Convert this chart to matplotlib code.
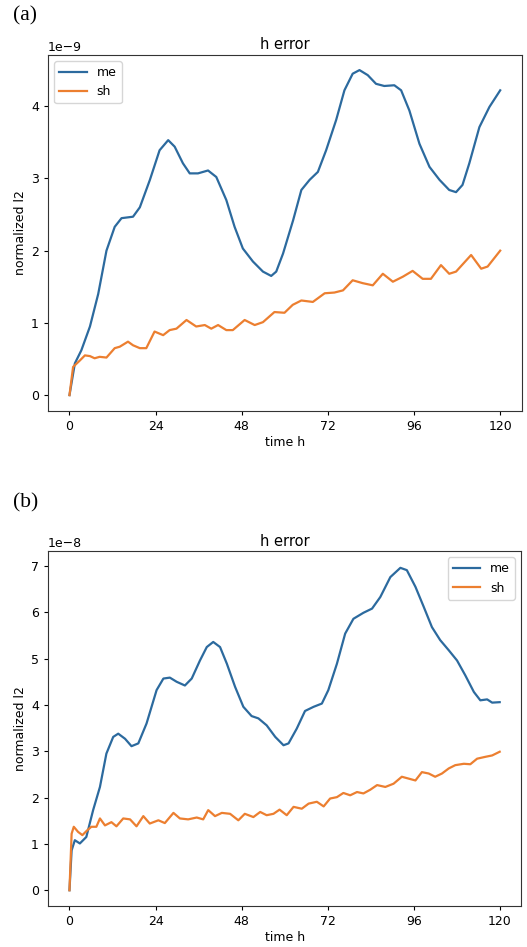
import numpy as np
import matplotlib
matplotlib.use('Agg')
import matplotlib.pyplot as plt

############################################
# data (units 1e-9 for a, 1e-8 for b)
############################################

t_me_a = [0, 1.5, 3.3, 5.7, 8, 10.3, 12.6, 14.5, 17.7, 19.6, 22.4, 25.1, 27.5, 29.3,
          31.6, 33.5, 35.8, 38.6, 40.9, 43.7, 46, 48.3, 51.1, 53.9, 56.2, 57.6, 59.5,
          62.3, 64.6, 66.9, 69.2, 71.5, 74.3, 76.6, 78.9, 80.8, 83.1, 85.4, 87.7, 90.5,
          92.4, 94.7, 97.5, 100.3, 103.1, 105.8, 107.7, 109.5, 111.4, 114.2, 117, 120]
me_a = [0, 0.44, 0.62, 0.95, 1.4, 2.0, 2.33, 2.45, 2.47, 2.6, 2.98, 3.39, 3.53, 3.44,
        3.21, 3.07, 3.07, 3.11, 3.02, 2.70, 2.33, 2.03, 1.85, 1.71, 1.65, 1.71, 1.96,
        2.42, 2.84, 2.98, 3.09, 3.39, 3.81, 4.22, 4.45, 4.50, 4.43, 4.31, 4.28, 4.29,
        4.22, 3.94, 3.48, 3.16, 2.98, 2.84, 2.81, 2.91, 3.21, 3.71, 3.99, 4.22]

t_sh_a = [0, 1, 2.9, 4.3, 5.7, 7, 8.4, 10.3, 12.6, 14, 16.3, 17.7, 19.6, 21.4, 23.7,
          26.1, 27.9, 29.8, 32.6, 35.3, 37.7, 39.5, 41.4, 43.7, 45.5, 48.8, 51.6, 53.9,
          57.1, 59.9, 62.2, 64.6, 67.8, 71.1, 73.8, 76.2, 78.9, 81.7, 84.5, 87.3, 90.1,
          92.9, 95.6, 98.4, 100.7, 103.5, 105.8, 107.7, 111.9, 114.7, 116.5, 120]
sh_a = [0, 0.39, 0.48, 0.55, 0.54, 0.51, 0.53, 0.52, 0.65, 0.67, 0.74, 0.69, 0.65, 0.65,
        0.88, 0.83, 0.90, 0.92, 1.04, 0.95, 0.97, 0.92, 0.97, 0.90, 0.90, 1.04, 0.97,
        1.01, 1.15, 1.14, 1.25, 1.31, 1.29, 1.41, 1.42, 1.45, 1.59, 1.55, 1.52, 1.68,
        1.57, 1.64, 1.72, 1.61, 1.61, 1.80, 1.68, 1.71, 1.94, 1.75, 1.78, 2.0]

t_me_b = [0, 0.6, 1.5, 2.9, 4.7, 6.6, 8.5, 10.3, 12.2, 13.6, 15.5, 17.3, 19.2, 21.5,
          24.3, 26.2, 28, 29.9, 32.2, 34.1, 36.4, 38.3, 40.1, 42, 43.9, 46.2, 48.5,
          50.8, 52.7, 55, 57.4, 59.7, 61.1, 63.4, 65.7, 68.1, 70.4, 72.2, 74.6, 76.9,
          79.2, 82, 84.4, 86.7, 89.5, 92.3, 94.1, 96.5, 98.8, 101.1, 103.4, 105.8,
          108.1, 110.4, 112.8, 114.6, 116.5, 117.9, 120]
me_b = [0, 0.86, 1.08, 1.01, 1.15, 1.73, 2.23, 2.95, 3.31, 3.38, 3.27, 3.11, 3.17, 3.60,
        4.32, 4.57, 4.59, 4.50, 4.42, 4.57, 4.96, 5.25, 5.36, 5.25, 4.89, 4.39, 3.96,
        3.76, 3.71, 3.56, 3.31, 3.13, 3.17, 3.49, 3.87, 3.96, 4.03, 4.32, 4.89, 5.54,
        5.86, 5.99, 6.08, 6.33, 6.76, 6.96, 6.91, 6.55, 6.12, 5.68, 5.40, 5.18,
        4.96, 4.64, 4.28, 4.10, 4.12, 4.05, 4.06]

t_sh_b = [0, 0.6, 1.2, 2.4, 3.6, 4.9, 6.1, 7.5, 8.5, 9.9, 11.7, 13.1, 15, 16.9, 18.7,
          20.6, 22.4, 24.8, 26.6, 29, 30.8, 33.1, 35.5, 37.3, 38.7, 40.6, 42.5, 44.8,
          47.1, 48.9, 51.3, 53.2, 55, 56.9, 58.6, 60.6, 62.5, 64.8, 66.7, 69, 70.9,
          72.7, 74.6, 76.4, 78.3, 80.2, 82, 83.9, 85.8, 88.1, 90.4, 92.7, 94.6, 96.5,
          98.3, 100.2, 102, 103.9, 105.8, 107.6, 110, 111.8, 113.7, 116, 117.9, 120]
sh_b = [0, 1.22, 1.37, 1.26, 1.19, 1.29, 1.37, 1.37, 1.55, 1.40, 1.47, 1.38, 1.55, 1.53,
        1.38, 1.60, 1.44, 1.51, 1.45, 1.67, 1.55, 1.53, 1.57, 1.53, 1.73, 1.60, 1.67,
        1.65, 1.51, 1.65, 1.58, 1.69, 1.62, 1.65, 1.74, 1.62, 1.80, 1.76, 1.87, 1.91,
        1.81, 1.98, 2.01, 2.10, 2.05, 2.12, 2.09, 2.17, 2.27, 2.23, 2.30, 2.45, 2.41,
        2.37, 2.55, 2.52, 2.45, 2.52, 2.63, 2.70, 2.73, 2.72, 2.84, 2.88, 2.91, 2.99]

xticks = [0, 24, 48, 72, 96, 120]

############################################
# figure
############################################
fig = plt.figure(figsize=(5.27, 9.47), dpi=100)

ax1 = fig.add_axes([0.091, 0.566, 0.899, 0.376])
ax2 = fig.add_axes([0.091, 0.0433, 0.898, 0.3747])

c_me = '#2c6a9e'
c_sh = '#ec7f30'


def style(ax, scale, ylim, loc):
    ax.set_xticks(xticks)
    ax.set_xlim(-6, 126)
    ax.set_ylim(ylim[0] * scale, ylim[1] * scale)
    ax.set_title('h error', fontsize=10.5, pad=4)
    ax.set_xlabel('time h', fontsize=9, labelpad=2)
    ax.set_ylabel('normalized l2', fontsize=9, labelpad=3)
    ax.tick_params(labelsize=9, length=3)
    ax.yaxis.get_offset_text().set_fontsize(9)
    for sp in ax.spines.values():
        sp.set_color('#333333')
    ax.legend(loc=loc, fontsize=9, handlelength=2.2)


ax1.plot(t_me_a, np.array(me_a) * 1e-9, color=c_me, lw=1.6, label='me')
ax1.plot(t_sh_a, np.array(sh_a) * 1e-9, color=c_sh, lw=1.6, label='sh')
style(ax1, 1e-9, (-0.22, 4.71), 'upper left')

ax2.plot(t_me_b, np.array(me_b) * 1e-8, color=c_me, lw=1.6, label='me')
ax2.plot(t_sh_b, np.array(sh_b) * 1e-8, color=c_sh, lw=1.6, label='sh')
style(ax2, 1e-8, (-0.34, 7.32), 'upper right')

fig.text(0.024, 0.983, '(a)', family='Liberation Serif', fontsize=15.5, va='center')
fig.text(0.024, 0.469, '(b)', family='Liberation Serif', fontsize=15.5, va='center')

fig.savefig('out.png', dpi=100)
